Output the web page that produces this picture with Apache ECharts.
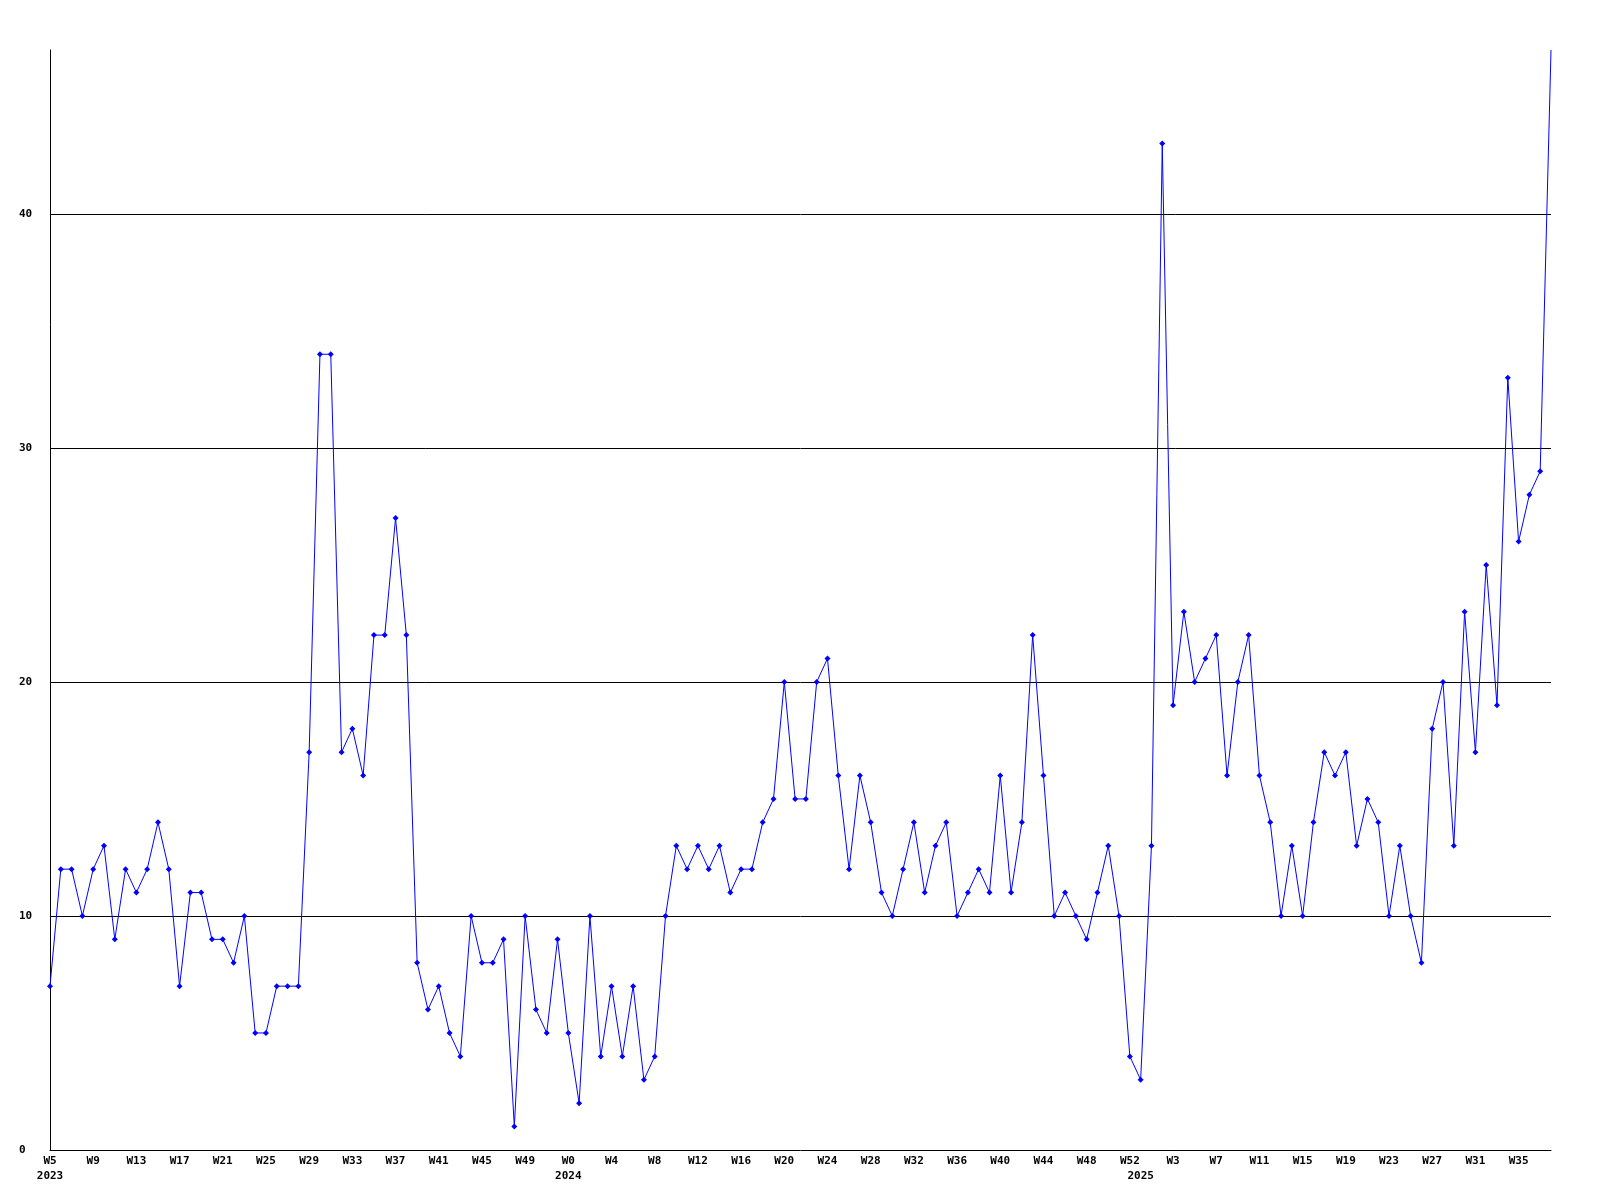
<!DOCTYPE html>
<html>
<head>
<meta charset="utf-8">
<script src="https://cdn.jsdelivr.net/npm/echarts@6/dist/echarts.min.js"></script>
<style>
html,body{margin:0;padding:0;background:#fff;}
#chart{width:1600px;height:1200px;}
</style>
</head>
<body>
<div id="chart"></div>
<script>
// Week labels: 2023 W5..W52, 2024 W0..W52, 2025 W0..W38
const weeks2023 = [5,6,7,8,9,10,11,12,13,14,15,16,17,18,19,20,21,22,23,24,25,26,27,28,29,30,31,32,33,34,35,36,37,38,39,40,41,42,43,44,45,46,47,48,49,50,51,52];
const weeks2024 = [0,1,2,3,4,5,6,7,8,9,10,11,12,13,14,15,16,17,18,19,20,21,22,23,24,25,26,27,28,29,30,31,32,33,34,35,36,37,38,39,40,41,42,43,44,45,46,47,48,49,50,51,52];
const weeks2025 = [0,1,2,3,4,5,6,7,8,9,10,11,12,13,14,15,16,17,18,19,20,21,22,23,24,25,26,27,28,29,30,31,32,33,34,35,36,37,38];
const years = ['2023','2024','2025'];

const values = [
  7,12,12,10,12,13,9,12,11,12,14,12,7,11,11,9,9,8,10,5,
  5,7,7,7,17,34,34,17,18,16,22,22,27,22,8,6,7,5,4,10,
  8,8,9,1,10,6,5,9,5,2,10,4,7,4,7,3,4,10,13,12,
  13,12,13,11,12,12,14,15,20,15,15,20,21,16,12,16,14,11,10,12,
  14,11,13,14,10,11,12,11,16,11,14,22,16,10,11,10,9,11,13,10,
  4,3,13,43,19,23,20,21,22,16,20,22,16,14,10,13,10,14,17,16,
  17,13,15,14,10,13,10,8,18,20,13,23,17,25,19,33,26,28,29,47
];
const yTicks = [0,10,20,30,40];

const categories = [];
const yearOfIdx = [];
weeks2023.forEach(w => { categories.push('W' + w); yearOfIdx.push(years[0]); });
weeks2024.forEach(w => { categories.push('W' + w); yearOfIdx.push(years[1]); });
weeks2025.forEach(w => { categories.push('W' + w); yearOfIdx.push(years[2]); });
const yearStart = {};
yearOfIdx.forEach((y, i) => { if (!(y in yearStart)) yearStart[y] = i; });
const yearStartIdx = Object.values(yearStart);

const font = {fontFamily: 'DejaVu Sans Mono', fontWeight: 'bold', fontSize: 11, color: '#000'};

const chart = echarts.init(document.getElementById('chart'), null, {renderer: 'canvas'});
chart.setOption({
  animation: false,
  backgroundColor: '#ffffff',
  grid: {left: 50, right: 49, top: 50, bottom: 50, containLabel: false},
  xAxis: [{
    type: 'category',
    data: categories,
    boundaryGap: false,
    axisLine: {show: true, lineStyle: {color: '#000', width: 1}},
    axisTick: {show: false},
    splitLine: {show: false},
    axisLabel: Object.assign({interval: 3, margin: 6}, font)
  }, {
    type: 'category',
    data: categories,
    boundaryGap: false,
    position: 'bottom',
    offset: 15,
    axisLine: {show: false},
    axisTick: {show: false},
    splitLine: {show: false},
    axisLabel: Object.assign({
      margin: 6,
      interval: (i) => yearStartIdx.indexOf(i) >= 0,
      formatter: (v, i) => yearOfIdx[i]
    }, font)
  }],
  yAxis: {
    type: 'value',
    min: 0,
    max: 47,
    interval: 10,
    axisLine: {show: true, lineStyle: {color: '#000', width: 1}},
    axisTick: {show: false},
    splitLine: {show: true, showMinLine: false, showMaxLine: false, lineStyle: {color: '#000', width: 1}},
    axisLabel: Object.assign({
      align: 'left',
      margin: 31,
      showMaxLabel: false,
      formatter: (v) => yTicks.indexOf(v) >= 0 ? String(v) : ''
    }, font)
  },
  series: [{
    type: 'line',
    data: values,
    xAxisIndex: 0,
    symbol: (v, params) => params.dataIndex === values.length - 1 ? 'none' : 'diamond',
    symbolSize: 6,
    showAllSymbol: true,
    lineStyle: {color: '#0000ff', width: 1},
    itemStyle: {color: '#0000ff'},
    emphasis: {disabled: true}
  }]
});
</script>
</body>
</html>
